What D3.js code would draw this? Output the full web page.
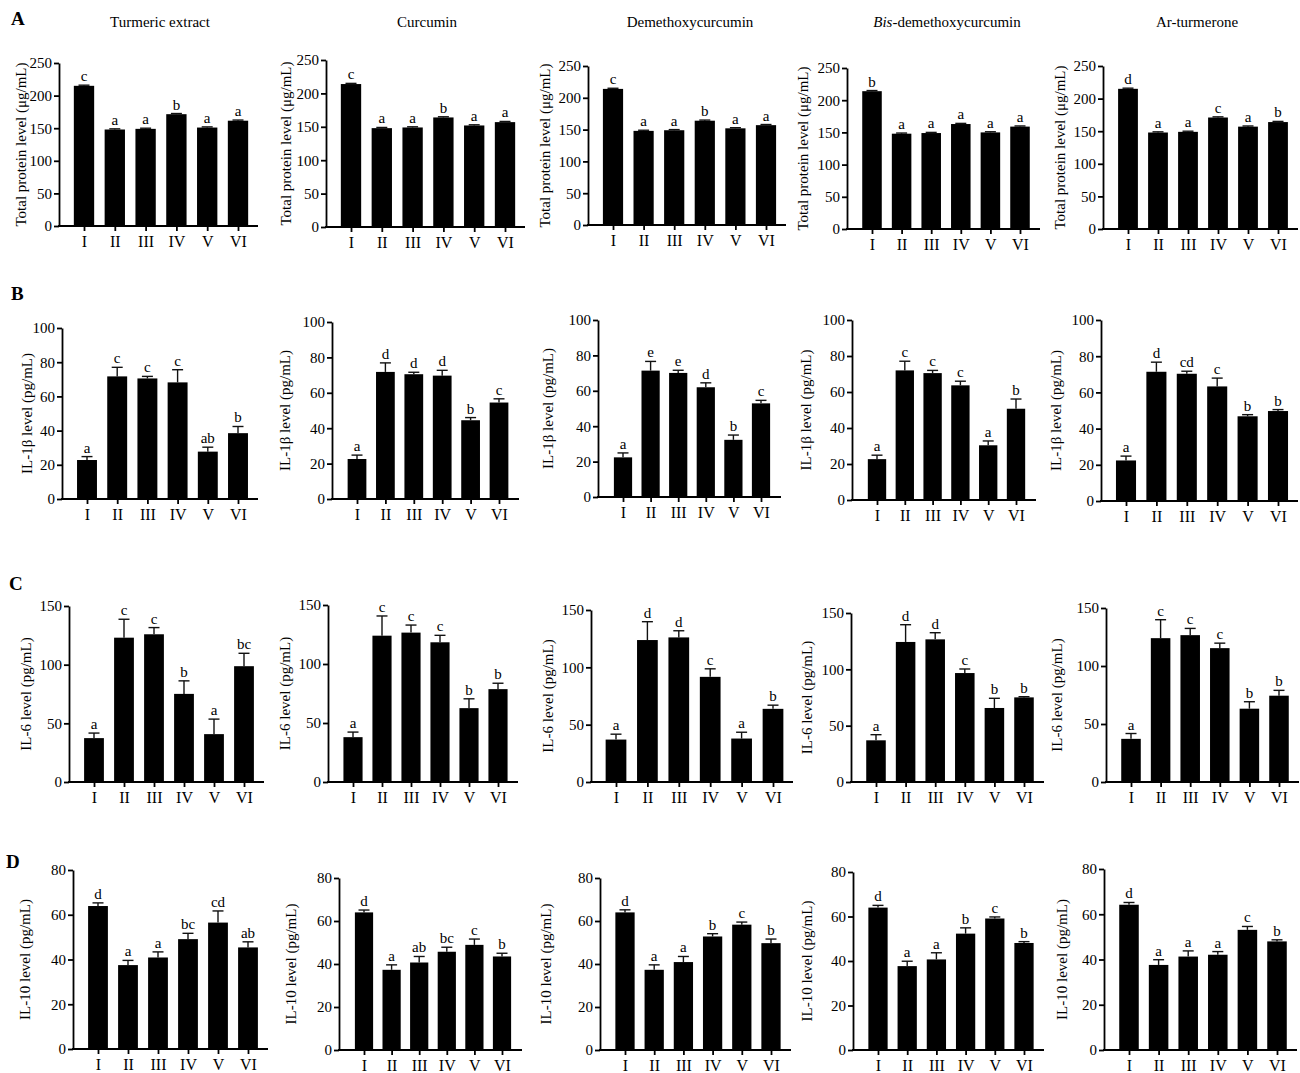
<!DOCTYPE html>
<html>
<head>
<meta charset="utf-8">
<script src="https://cdn.jsdelivr.net/npm/d3@7"></script>
<style>
  body { margin: 0; background: #fff; }
  svg { display: block; }
  text { font-family: "Liberation Serif", "Times New Roman", serif; fill: #000; }
</style>
</head>
<body>
<svg id="fig" width="1300" height="1073"></svg>
<script>
// ---- categories ----
const groups = ["I", "II", "III", "IV", "V", "VI"];
const compounds = ["Turmeric extract", "Curcumin", "Demethoxycurcumin", "Bis-demethoxycurcumin", "Ar-turmerone"];
const panelLetters = ["A", "B", "C", "D"];
const measures = ["Total protein level (μg/mL)", "IL-1β level (pg/mL)", "IL-6 level (pg/mL)", "IL-10 level (pg/mL)"];
const yMax = [250, 100, 150, 80];
const yStep = [50, 20, 50, 20];

// ---- total protein (μg/mL): mean, SD, significance letters; one row per compound ----
const proteinMean = [
  [215, 148, 149, 171.5, 151, 161.5],
  [214, 148, 149, 164, 152, 157],
  [214, 148, 149, 164, 152, 157],
  [214, 148, 149, 163, 150, 159],
  [215, 148, 149, 171, 157, 164]
];
const proteinSD = [
  [1, 1, 1, 1, 1, 1],
  [1, 1, 1, 1, 1, 1],
  [1, 1, 1, 1, 1, 1],
  [1, 1, 1, 1, 1, 1],
  [1, 1, 1, 1, 1, 1]
];
const proteinSig = [
  ["c", "a", "a", "b", "a", "a"],
  ["c", "a", "a", "b", "a", "a"],
  ["c", "a", "a", "b", "a", "a"],
  ["b", "a", "a", "a", "a", "a"],
  ["d", "a", "a", "c", "a", "b"]
];

// ---- IL-1β (pg/mL) ----
const il1bMean = [
  [22.8, 71.7, 70.5, 68.2, 27.7, 38.5],
  [22.6, 71.8, 70.5, 69.7, 44.5, 54.5],
  [22.4, 71.4, 70.1, 62.0, 32.3, 52.9],
  [22.7, 72.0, 70.5, 63.7, 30.4, 50.7],
  [22.4, 71.4, 70.3, 63.3, 46.8, 49.7]
];
const il1bSD = [
  [2.0, 5.3, 1.2, 7.4, 2.6, 3.9],
  [2.2, 5.1, 1.1, 3.0, 1.5, 2.1],
  [2.5, 5.2, 1.5, 2.5, 2.7, 1.7],
  [2.2, 5.1, 1.5, 2.3, 2.4, 5.4],
  [2.4, 5.3, 1.4, 4.6, 0.9, 0.8]
];
const il1bSig = [
  ["a", "c", "c", "c", "ab", "b"],
  ["a", "d", "d", "d", "b", "c"],
  ["a", "e", "e", "d", "b", "c"],
  ["a", "c", "c", "c", "a", "b"],
  ["a", "d", "cd", "c", "b", "b"]
];

// ---- IL-6 (pg/mL) ----
const il6Mean = [
  [37.4, 123.0, 125.9, 75.1, 40.8, 98.7],
  [38.0, 124.0, 126.6, 118.4, 62.6, 78.7],
  [37.0, 123.8, 126.1, 91.7, 37.9, 63.8],
  [37.0, 124.3, 126.6, 96.7, 65.7, 75.1],
  [37.2, 124.0, 126.6, 115.4, 63.2, 74.4]
];
const il6SD = [
  [4.3, 15.7, 5.7, 11.1, 12.8, 11.0],
  [4.3, 16.7, 6.4, 5.9, 7.9, 5.0],
  [4.7, 16.0, 5.8, 7.0, 5.5, 3.2],
  [5.0, 15.3, 5.9, 3.6, 8.6, 0.6],
  [4.6, 15.9, 5.8, 4.3, 6.0, 4.6]
];
const il6Sig = [
  ["a", "c", "c", "b", "a", "bc"],
  ["a", "c", "c", "c", "b", "b"],
  ["a", "d", "d", "c", "a", "b"],
  ["a", "d", "d", "c", "b", "b"],
  ["a", "c", "c", "c", "b", "b"]
];

// ---- IL-10 (pg/mL) ----
const il10Mean = [
  [63.9, 37.5, 40.9, 49.1, 56.5, 45.4],
  [64.0, 37.3, 40.7, 45.7, 48.9, 43.5],
  [64.0, 37.3, 40.9, 52.8, 58.3, 49.7],
  [64.0, 37.7, 40.7, 52.3, 59.1, 48.1],
  [64.2, 37.6, 41.3, 42.1, 53.1, 48.0]
];
const il10SD = [
  [1.4, 2.1, 2.5, 2.6, 5.2, 2.5],
  [1.1, 2.3, 2.8, 2.1, 2.7, 1.5],
  [1.2, 2.3, 2.6, 1.3, 1.2, 1.9],
  [1.0, 2.2, 3.0, 2.6, 0.7, 0.6],
  [1.0, 2.3, 2.5, 1.4, 1.5, 0.7]
];
const il10Sig = [
  ["d", "a", "a", "bc", "cd", "ab"],
  ["d", "a", "ab", "bc", "c", "b"],
  ["d", "a", "a", "b", "c", "b"],
  ["d", "a", "a", "b", "c", "b"],
  ["d", "a", "a", "a", "c", "b"]
];

const rows = [
  { mean: proteinMean, sd: proteinSD, sig: proteinSig },
  { mean: il1bMean, sd: il1bSD, sig: il1bSig },
  { mean: il6Mean, sd: il6SD, sig: il6Sig },
  { mean: il10Mean, sd: il10SD, sig: il10Sig }
];

// ---- panel geometry (pixels): y-axis x, x-axis right end, baseline y, top-of-scale y ----
const axisX = [
  [59, 326, 588, 847, 1103],
  [62, 332, 598, 852, 1101],
  [69, 328, 591, 851, 1106],
  [73, 339, 600, 853, 1104]
];
const axisRight = [
  [258, 525, 786, 1040, 1298],
  [258, 519, 781, 1036, 1298],
  [264, 518, 793, 1044, 1299],
  [268, 522, 791, 1044, 1297]
];
const zeroY = [
  [226, 227, 225, 229, 229],
  [499, 499, 497, 500, 501],
  [782, 782, 782, 782, 782],
  [1049, 1050, 1050, 1050, 1050]
];
const topY = [
  [63, 60, 66, 68, 66],
  [328, 322, 320, 320, 320],
  [606, 605, 610, 613, 608],
  [870, 878, 878, 872, 869]
];
const yTitleX = [
  [23, 288, 547, 805, 1062],
  [29, 287, 550, 808, 1058],
  [28, 287, 550, 809, 1059],
  [27, 293, 548, 809, 1064]
];
const letterPos = [[11, 25], [11, 300], [9, 590], [6, 868]];
const titleX = [160, 427, 690, 947, 1197];

const svg = d3.select("#fig");

// column headers
svg.append("g").selectAll("text")
  .data(compounds)
  .join("text")
  .attr("x", (d, i) => titleX[i])
  .attr("y", 27)
  .attr("text-anchor", "middle")
  .attr("font-size", 15)
  .each(function (d) {
    const t = d3.select(this);
    if (d.startsWith("Bis-")) {
      t.append("tspan").attr("font-style", "italic").text("Bis");
      t.append("tspan").text(d.slice(3));
    } else {
      t.text(d);
    }
  });

// row letters
svg.append("g").selectAll("text")
  .data(panelLetters)
  .join("text")
  .attr("x", (d, i) => letterPos[i][0])
  .attr("y", (d, i) => letterPos[i][1])
  .attr("font-size", 19)
  .attr("font-weight", "bold")
  .text(d => d);

rows.forEach((row, r) => {
  compounds.forEach((comp, k) => {
    const g = svg.append("g");
    const x0 = axisX[r][k], x1 = axisRight[r][k];
    const y = d3.scaleLinear().domain([0, yMax[r]]).range([zeroY[r][k], topY[r][k]]);
    const x = d3.scalePoint().domain(groups).range([x0 + 25, x1 - 20]);
    const bw = x.step() * 0.66;
    const capW = 11;

    const data = groups.map((gName, i) => ({
      g: gName,
      m: row.mean[k][i],
      sd: row.sd[k][i],
      s: row.sig[k][i]
    }));

    // bars
    g.selectAll("rect.bar")
      .data(data)
      .join("rect")
      .attr("class", "bar")
      .attr("x", d => x(d.g) - bw / 2)
      .attr("width", bw)
      .attr("y", d => y(d.m))
      .attr("height", d => y(0) - y(d.m))
      .attr("fill", "#000");

    // upper error bars
    const eb = g.selectAll("g.err").data(data).join("g").attr("class", "err")
      .attr("stroke", "#111").attr("stroke-width", 1.4);
    eb.append("line")
      .attr("x1", d => x(d.g)).attr("x2", d => x(d.g))
      .attr("y1", d => y(d.m)).attr("y2", d => y(d.m + d.sd));
    eb.append("line")
      .attr("x1", d => x(d.g) - capW / 2).attr("x2", d => x(d.g) + capW / 2)
      .attr("y1", d => y(d.m + d.sd)).attr("y2", d => y(d.m + d.sd));

    // significance letters
    g.selectAll("text.sig")
      .data(data)
      .join("text")
      .attr("class", "sig")
      .attr("x", d => x(d.g))
      .attr("y", d => y(d.m + d.sd) - 4)
      .attr("text-anchor", "middle")
      .attr("font-size", 15)
      .text(d => d.s);

    // y axis
    const yAxis = d3.axisLeft(y)
      .tickValues(d3.range(0, yMax[r] + 0.001, yStep[r]))
      .tickSizeInner(5)
      .tickSizeOuter(0)
      .tickPadding(2);
    const ya = g.append("g").attr("transform", `translate(${x0},0)`).call(yAxis);
    ya.selectAll("path, line").attr("stroke", "#000").attr("stroke-width", 1.8);
    ya.selectAll("text")
      .attr("font-family", "Liberation Serif, Times New Roman, serif")
      .attr("font-size", 15)
      .attr("fill", "#000");
    ya.attr("font-size", null).attr("font-family", null);

    // x axis
    g.append("line")
      .attr("x1", x0 - 1).attr("x2", x1)
      .attr("y1", y(0)).attr("y2", y(0))
      .attr("stroke", "#000").attr("stroke-width", 1.8);
    const xAxis = d3.axisBottom(x).tickSizeInner(5).tickSizeOuter(0).tickPadding(5);
    const xa = g.append("g").attr("transform", `translate(0,${y(0)})`).call(xAxis);
    xa.select(".domain").remove();
    xa.selectAll("line").attr("stroke", "#000").attr("stroke-width", 1.8);
    xa.selectAll("text")
      .attr("font-family", "Liberation Serif, Times New Roman, serif")
      .attr("font-size", 16)
      .attr("fill", "#000");
    xa.attr("font-size", null).attr("font-family", null);

    // y title
    const cy = (zeroY[r][k] + topY[r][k]) / 2;
    g.append("text")
      .attr("transform", `translate(${yTitleX[r][k]},${cy}) rotate(-90)`)
      .attr("text-anchor", "middle")
      .attr("dominant-baseline", "middle")
      .attr("font-size", 15)
      .text(measures[r]);
  });
});
</script>
</body>
</html>
